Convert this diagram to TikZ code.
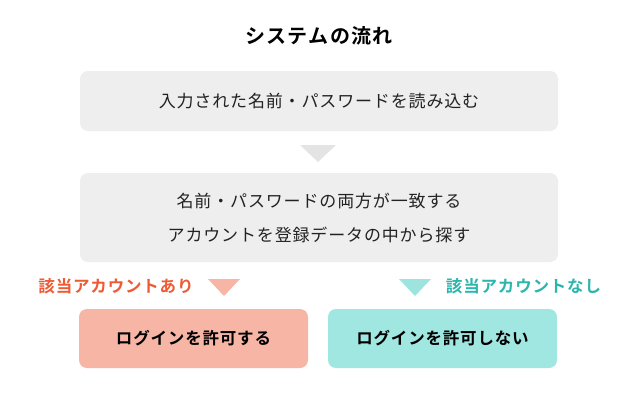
\documentclass[tikz,border=0pt]{standalone}
\usepackage{fontspec}
\newfontfamily\jp{Noto Sans CJK JP}[LetterSpace=5, BoldFont={Noto Sans CJK JP Bold}]
\newfontfamily\jpt{Noto Sans CJK JP}[LetterSpace=7, BoldFont={Noto Sans CJK JP Bold}]
\definecolor{boxgray}{HTML}{EEEEEE}
\definecolor{trigray}{HTML}{E4E4E4}
\definecolor{salmon}{HTML}{F7B6A5}
\definecolor{salmontxt}{HTML}{EE5A34}
\definecolor{teal}{HTML}{A0E7E1}
\definecolor{tealtri}{HTML}{9EE4DE}
\definecolor{tealtxt}{HTML}{2BB6AD}
\definecolor{txt}{HTML}{222222}
\begin{document}
\begin{tikzpicture}[x=1pt,y=-1pt,
  flowbox/.style={rounded corners=8pt, fill=boxgray, draw=none, minimum width=478pt, align=center, text=txt, font=\jp\fontsize{17}{34}\selectfont, inner sep=0pt},
  resultbox/.style={rounded corners=8pt, draw=none, minimum width=229pt, minimum height=59pt, align=center, text=black, font=\jp\bfseries\fontsize{16.5}{20}\selectfont, inner sep=0pt},
  branchlabel/.style={font=\jp\bfseries\fontsize{16.5}{20}\selectfont, inner sep=0pt}]
\useasboundingbox (0,0) rectangle (640,400);
\fill[white] (0,0) rectangle (640,400);
\node[font=\jpt\bfseries\fontsize{20}{22}\selectfont, text=black] (title) at (319,36) {システムの流れ};
\node[flowbox, minimum height=60pt] (read) at (319,101) {入力された名前・パスワードを読み込む};
\coordinate (t1a) at (300,145); \coordinate (t1b) at (336,145); \coordinate (t1c) at (318,162);
\fill[trigray] (t1a) -- (t1b) -- (t1c) -- cycle;
\node[flowbox, minimum height=89pt] (search) at (319,217.5) {名前・パスワードの両方が一致する\\アカウントを登録データの中から探す};
\node[branchlabel, text=salmontxt] (yeslbl) at (116,286) {該当アカウントあり};
\coordinate (t2a) at (208,279); \coordinate (t2b) at (240,279); \coordinate (t2c) at (224,296);
\fill[salmon] (t2a) -- (t2b) -- (t2c) -- cycle;
\coordinate (t3a) at (399,279); \coordinate (t3b) at (431,279); \coordinate (t3c) at (415,296);
\fill[tealtri] (t3a) -- (t3b) -- (t3c) -- cycle;
\node[branchlabel, text=tealtxt] (nolbl) at (523.5,286) {該当アカウントなし};
\node[resultbox, fill=salmon] (allow) at (193.5,338.5) {ログインを許可する};
\node[resultbox, fill=teal] (deny) at (442.5,338.5) {ログインを許可しない};
\end{tikzpicture}
\end{document}
